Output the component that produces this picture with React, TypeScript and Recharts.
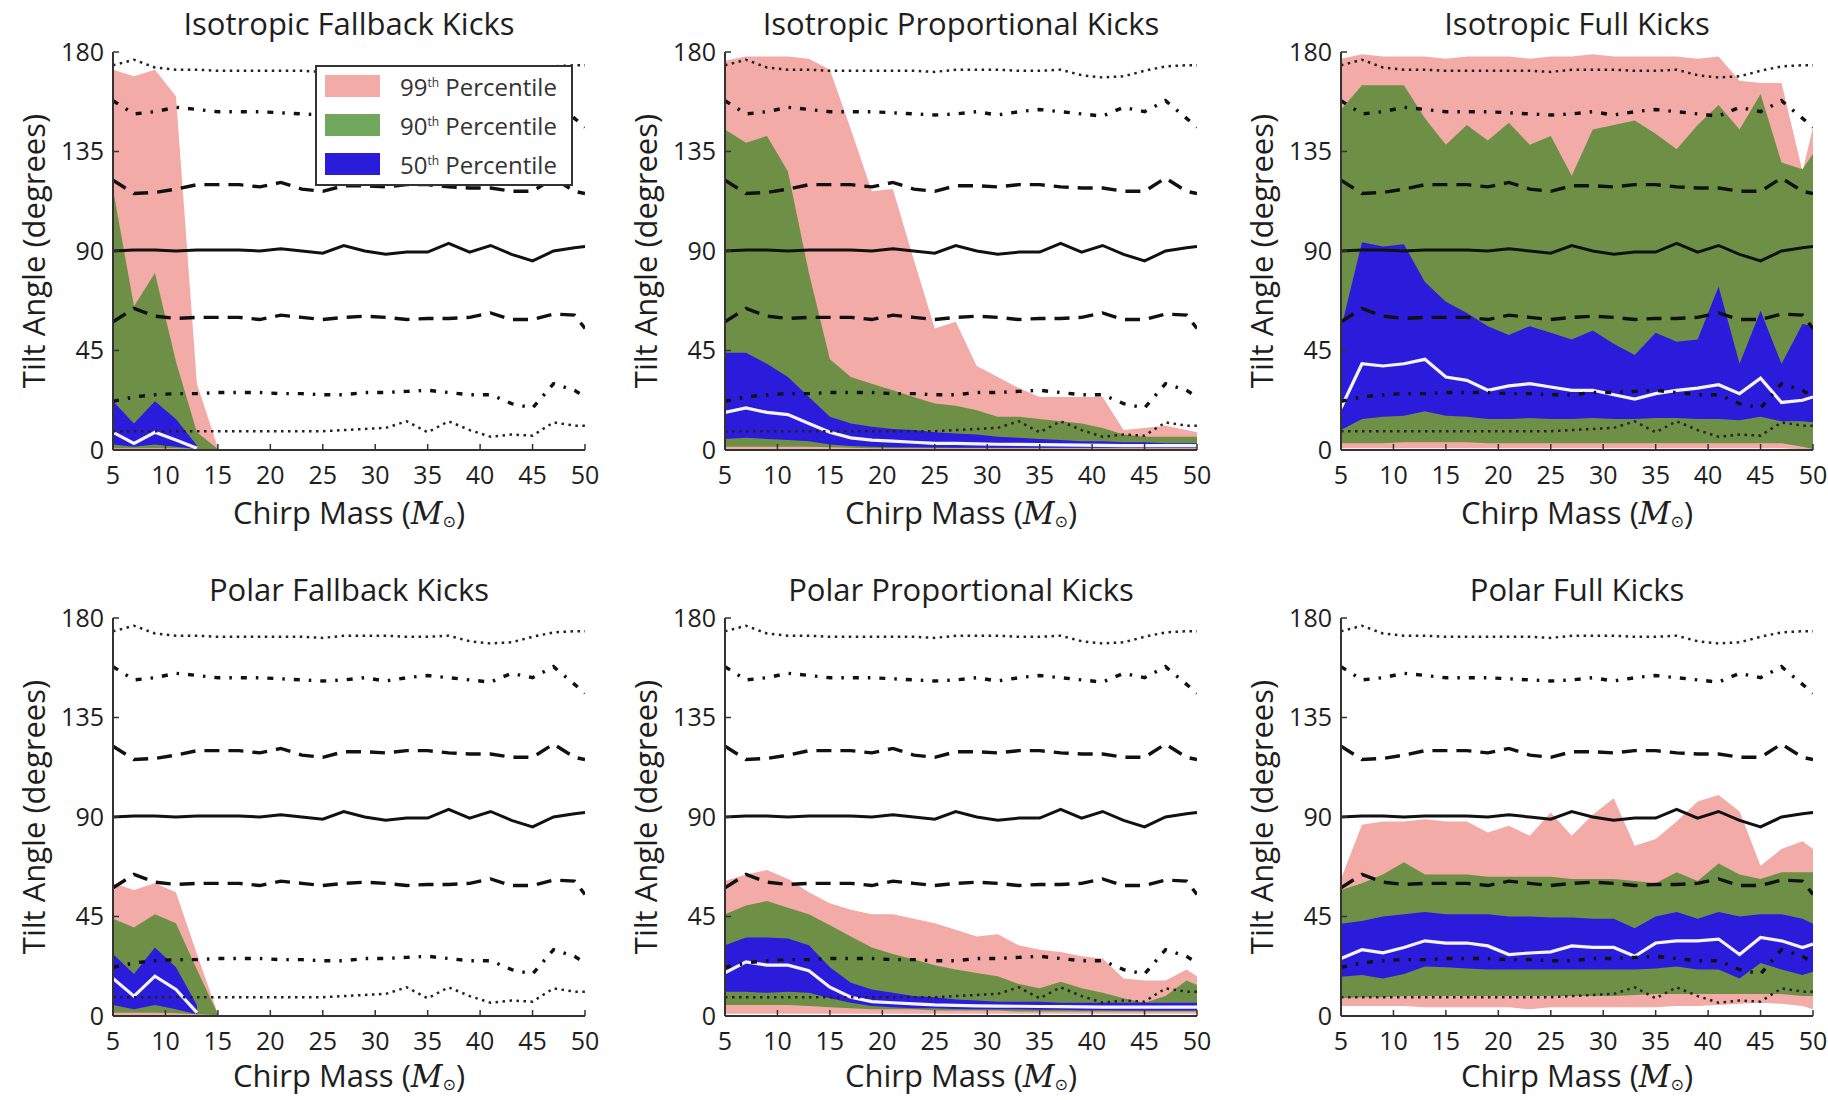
import React from "react";
import { ComposedChart, Area, Line, XAxis, YAxis } from "recharts";

const FONT = "'Open Sans', 'DejaVu Sans', sans-serif";
const N = null;

const chirpMass = [5, 7, 9, 11, 13, 15, 17, 19, 21, 23, 25, 27, 29, 31, 33, 35, 37, 39, 41, 43, 45, 47, 49, 50];
const xTicks = [5, 10, 15, 20, 25, 30, 35, 40, 45, 50];
const yTicks = [0, 45, 90, 135, 180];

// isotropic reference percentiles (black lines)
const isoMedian = [90, 90.5, 90.5, 90, 90.5, 90.5, 90.5, 90, 91, 90, 89, 92.5, 90, 88.5, 89.5, 89.5, 93.5, 89.5, 92.5, 88.5, 85.5, 90, 91.5, 92];
const iso25 = [58, 64, 60.5, 59.5, 60, 60, 60, 59, 61, 60, 59, 60, 60.5, 60, 59, 59.5, 59.5, 60, 62, 59, 59, 61.5, 61, 55];
const iso75 = [122, 116, 116.5, 118, 120, 120, 120, 119, 121, 118, 117, 119.5, 119.5, 119, 120, 120, 119, 118.5, 118.5, 117, 117, 123, 117, 116];
const iso5 = [22, 24, 25, 25.5, 25.5, 26, 26, 26, 25.5, 25.5, 25, 25, 26, 26, 26.5, 27, 26, 25, 25, 21, 19, 30, 27, 24];
const iso95 = [158, 152, 153, 155, 154, 153, 153, 153, 152.5, 152, 151.5, 152, 153, 151.5, 153, 154, 153, 152, 151, 155, 153, 158, 150, 146];
const isoLow = [8.5, 8.5, 8.5, 8.5, 8.5, 8.5, 8.5, 8.5, 8.5, 8.5, 8.5, 9, 9.5, 10, 13, 8, 13, 9, 6, 7, 6.5, 12.5, 11, 11];
const isoHigh = [174, 176.5, 173, 172, 172, 171.5, 171.5, 171.5, 171.5, 171.5, 171, 172, 172, 172, 171.5, 171.5, 172, 169.5, 168.5, 169, 171.5, 173.5, 174, 174];

// Isotropic Fallback Kicks
const isoFb99Lo = [0.3, 0.3, 0.3, 0.3, 0.3, 0.3, N, N, N, N, N, N, N, N, N, N, N, N, N, N, N, N, N, N];
const isoFb99Hi = [172, 169, 172, 160, 30, 1, N, N, N, N, N, N, N, N, N, N, N, N, N, N, N, N, N, N];
const isoFb90Lo = [0.8, 0.8, 0.8, 0.8, 0.5, 0.3, N, N, N, N, N, N, N, N, N, N, N, N, N, N, N, N, N, N];
const isoFb90Hi = [118, 65, 80, 40, 8, 0.5, N, N, N, N, N, N, N, N, N, N, N, N, N, N, N, N, N, N];
const isoFb50Lo = [2.5, 1.5, 2.5, 1.5, 0.5, N, N, N, N, N, N, N, N, N, N, N, N, N, N, N, N, N, N, N];
const isoFb50Hi = [22, 12, 22, 14, 2, N, N, N, N, N, N, N, N, N, N, N, N, N, N, N, N, N, N, N];
const isoFbMed = [8, 3, 8, 4.5, 0.8, N, N, N, N, N, N, N, N, N, N, N, N, N, N, N, N, N, N, N];

// Isotropic Proportional Kicks
const isoPr99Lo = [0.5, 0.5, 0.5, 0.5, 0.5, 0.5, 0.5, 0.5, 0.5, 0.5, 0.5, 0.5, 0.5, 0.5, 0.5, 0.5, 0.5, 0.5, 0.5, 0.5, 0.5, 0.5, 0.5, 0.5];
const isoPr99Hi = [176, 178, 178, 178, 177, 172, 145, 117, 118, 86, 55, 58, 38, 33, 28, 24, 24, 24, 24, 9, 10, 11, 9, 8];
const isoPr90Lo = [1.5, 1.5, 1.5, 1.5, 1.5, 1.2, 1, 0.8, 0.8, 0.8, 0.8, 0.8, 0.8, 0.8, 0.8, 0.8, 0.8, 0.8, 0.8, 0.8, 0.8, 0.8, 0.8, 0.8];
const isoPr90Hi = [145, 139, 142, 126, 80, 41, 33, 30, 27, 24, 21, 20, 18, 15, 15, 14, 13, 12, 10, 7, 6, 6, 6, 6];
const isoPr50Lo = [5, 5.5, 5, 4.5, 4, 2.5, 1.8, 1.5, 1.3, 1.2, 1.1, 1, 1, 1, 1, 1, 1, 1, 1, 1, 1, 1, 1, 1];
const isoPr50Hi = [44, 44, 39, 33, 24, 15, 12, 10.5, 9.5, 9, 8, 7.5, 7, 6, 5.5, 5, 4.5, 4, 4, 3.5, 3.5, 3, 3, 3];
const isoPrMed = [17, 19, 17, 16, 12, 8, 5.5, 4.5, 4, 3.5, 3, 3, 2.8, 2.6, 2.5, 2.4, 2.3, 2.2, 2.1, 2, 2, 2, 2, 2];

// Isotropic Full Kicks
const isoFu99Lo = [0.8, 0.8, 0.8, 0.8, 0.8, 0.8, 0.8, 0.8, 0.8, 0.8, 0.8, 0.8, 0.8, 0.8, 0.8, 0.8, 0.8, 0.8, 0.8, 0.8, 0.8, 0.8, 0.3, 0];
const isoFu99Hi = [177, 179, 178, 178, 178, 177, 178, 178, 178, 177, 178, 178, 179, 178, 178, 178, 178, 177, 178, 167, 166, 166, 126, 146];
const isoFu90Lo = [3, 3, 3, 3.5, 3.5, 3.5, 3.5, 3, 3, 3, 3, 3, 3, 3, 3, 3, 3, 3, 3, 3, 3, 3, 1.5, 0.5];
const isoFu90Hi = [154, 165, 165, 165, 150, 138, 147, 140, 148, 138, 142, 124, 145, 147, 149, 143, 136, 147, 156, 145, 161, 130, 127, 134];
const isoFu50Lo = [9, 14, 15, 15.5, 17.5, 15.5, 15, 14, 14, 14.5, 14, 14, 14.5, 14, 14, 14.5, 14.5, 14, 14, 13.5, 15, 13, 13, 12.5];
const isoFu50Hi = [55, 94, 92, 93, 76, 67, 62, 56, 52, 56, 53, 50, 54, 48, 43, 53, 49, 50, 74, 39, 63, 39, 57, 56];
const isoFuMed = [19, 39, 38, 39, 41, 33, 31.5, 27, 29, 30, 28.5, 27, 27, 25, 23, 25.5, 27, 28, 29.5, 25.5, 32.5, 21.5, 22.5, 24];

// Polar Fallback Kicks
const polFb99Lo = [0.3, 0.3, 0.3, 0.3, 0.3, 0.3, N, N, N, N, N, N, N, N, N, N, N, N, N, N, N, N, N, N];
const polFb99Hi = [60, 57, 60, 56, 28, 1, N, N, N, N, N, N, N, N, N, N, N, N, N, N, N, N, N, N];
const polFb90Lo = [1.5, 1.5, 1.5, 1.2, 0.8, 0.3, N, N, N, N, N, N, N, N, N, N, N, N, N, N, N, N, N, N];
const polFb90Hi = [44, 40, 46, 42, 21, 0.8, N, N, N, N, N, N, N, N, N, N, N, N, N, N, N, N, N, N];
const polFb50Lo = [5, 3, 5, 3, 0.8, N, N, N, N, N, N, N, N, N, N, N, N, N, N, N, N, N, N, N];
const polFb50Hi = [28, 19, 31, 22, 5, N, N, N, N, N, N, N, N, N, N, N, N, N, N, N, N, N, N, N];
const polFbMed = [17, 9, 18, 12, 1.5, N, N, N, N, N, N, N, N, N, N, N, N, N, N, N, N, N, N, N];

// Polar Proportional Kicks
const polPr99Lo = [1, 1, 1, 1, 1, 1, 1, 1, 1, 1, 1, 1, 1, 1, 1, 1, 1, 1, 1, 1, 1, 1, 1, 1];
const polPr99Hi = [61, 64, 66, 62, 56, 51, 48, 46, 46, 44, 42, 39, 36, 37, 32, 30, 29, 27, 26, 17, 16, 16, 21, 18];
const polPr90Lo = [5, 5, 5, 5, 4.5, 4, 3.5, 3, 3, 3, 2.5, 2.5, 2.5, 2.5, 2, 2, 2, 2, 2, 2, 2, 2, 2, 2];
const polPr90Hi = [46, 50, 52, 49, 46, 41, 36, 31, 28, 25.5, 23, 21, 19.5, 18, 14.5, 12.5, 15.5, 12.5, 10.5, 8, 6, 9, 16, 14];
const polPr50Lo = [11, 11, 10.5, 11, 10.5, 8, 6, 4.5, 4, 3.5, 3.5, 3.2, 3, 3, 3, 2.8, 2.8, 2.6, 2.6, 2.5, 2.5, 2.5, 2.5, 2.5];
const polPr50Hi = [32, 35.5, 35.5, 35, 32, 22, 15, 12, 10.5, 9, 8.5, 7.5, 7, 6.5, 6.5, 6.5, 6, 6, 6, 6, 6, 6, 6, 6];
const polPrMed = [19.5, 24.5, 23, 23, 20.5, 13, 8.5, 6.5, 6, 5.5, 5, 4.8, 4.6, 4.5, 4.4, 4.3, 4.2, 4.1, 4, 4, 4, 4, 4, 4];

// Polar Full Kicks
const polFu99Lo = [4.5, 4.5, 4.5, 4.5, 4, 4, 4, 4, 4, 3, 4, 4, 4, 4, 4, 4, 4.5, 4.5, 5, 5.5, 6, 5.5, 4.5, 3];
const polFu99Hi = [62, 86.5, 88, 88, 89, 88, 88, 83, 86, 81.5, 92, 81.5, 91, 98.5, 77, 80, 88, 97, 100, 92.5, 68, 75.5, 79, 75.5];
const polFu90Lo = [8, 8.5, 8.5, 9, 9, 9, 9, 9, 9, 9, 9, 9, 9, 9, 9.5, 10, 10, 10, 10, 10, 10, 10, 9, 9];
const polFu90Hi = [57, 60, 64, 69.5, 64, 64, 64, 63, 63, 63, 63, 62, 62, 62, 61, 60, 65, 61, 69, 64, 62, 65, 65, 65];
const polFu50Lo = [17.8, 18.5, 17, 19, 22.4, 22, 21.5, 21, 21, 21, 21, 21, 21, 21, 21, 21.5, 22.4, 21, 21, 17, 24, 21, 18.5, 20];
const polFu50Hi = [41.7, 43, 45, 46, 47, 46, 46, 46, 45, 45, 44.5, 44.5, 44, 44, 39.7, 45, 47, 44, 47, 45, 46, 46, 44, 41.7];
const polFuMed = [26, 30, 28.6, 31, 34, 33, 33, 31.7, 27.8, 28.5, 29, 31.7, 31, 31, 27, 33, 34, 34, 34.8, 27.8, 35.5, 34, 31, 32.5];

const panelTitles = [
  "Isotropic Fallback Kicks",
  "Isotropic Proportional Kicks",
  "Isotropic Full Kicks",
  "Polar Fallback Kicks",
  "Polar Proportional Kicks",
  "Polar Full Kicks",
];

const legendLabels = ["99", "90", "50"];

const PINK = "#F2ABA6";
const GREEN = "#6E9046";
const BLUE = "#2B1BDB";
const legendColors = [PINK, "#72A85E", BLUE];

const panelSeries = [
  [isoFb99Lo, isoFb99Hi, isoFb90Lo, isoFb90Hi, isoFb50Lo, isoFb50Hi, isoFbMed],
  [isoPr99Lo, isoPr99Hi, isoPr90Lo, isoPr90Hi, isoPr50Lo, isoPr50Hi, isoPrMed],
  [isoFu99Lo, isoFu99Hi, isoFu90Lo, isoFu90Hi, isoFu50Lo, isoFu50Hi, isoFuMed],
  [polFb99Lo, polFb99Hi, polFb90Lo, polFb90Hi, polFb50Lo, polFb50Hi, polFbMed],
  [polPr99Lo, polPr99Hi, polPr90Lo, polPr90Hi, polPr50Lo, polPr50Hi, polPrMed],
  [polFu99Lo, polFu99Hi, polFu90Lo, polFu90Hi, polFu50Lo, polFu50Hi, polFuMed],
];

const range = (lo: (number | null)[], hi: (number | null)[], i: number) =>
  lo[i] == null || hi[i] == null ? null : [lo[i], hi[i]];

function buildData(s: (number | null)[][]) {
  return chirpMass.map((x, i) => ({
    x,
    p99: range(s[0], s[1], i),
    p90: range(s[2], s[3], i),
    p50: range(s[4], s[5], i),
    med: s[6][i],
    isoMedian: isoMedian[i],
    iso25: iso25[i],
    iso75: iso75[i],
    iso5: iso5[i],
    iso95: iso95[i],
    isoLow: isoLow[i],
    isoHigh: isoHigh[i],
  }));
}

const colLeft = [113, 725, 1341];
const rowTop = [52, 618];
const PW = 472;
const PH = 398;
const ML = 100;
const MT = 50;
const MR = 22;
const MB = 60;

const TXT = "#1e1e1e";
const BIG = 31;
const tickStyle = { fill: TXT, fontSize: 25, fontFamily: FONT };

function Panel({ idx }: { idx: number }) {
  const col = idx % 3;
  const row = Math.floor(idx / 3);
  const left = colLeft[col];
  const top = rowTop[row];
  const data = buildData(panelSeries[idx]);
  const blk = "#111";
  return (
    <>
      <div
        style={{
          position: "absolute",
          left: left - 40,
          top: top - 48,
          width: PW + 80,
          textAlign: "center",
          fontFamily: FONT,
          fontSize: BIG,
          lineHeight: "38px",
          color: TXT,
          whiteSpace: "nowrap",
        }}
      >
        {panelTitles[idx]}
      </div>
      <div style={{ position: "absolute", left: left - ML, top: top - MT }}>
        <ComposedChart
          width={ML + PW + MR}
          height={MT + PH + MB}
          data={data}
          margin={{ top: MT, right: MR, left: 0, bottom: 0 }}
        >
          <XAxis
            dataKey="x"
            type="number"
            domain={[5, 50]}
            ticks={xTicks}
            allowDataOverflow
            height={MB}
            tick={tickStyle}
            tickSize={-6}
            tickMargin={22}
            axisLine={{ stroke: "#333", strokeWidth: 2 }}
            tickLine={{ stroke: "#333", strokeWidth: 1.5 }}
            interval={0}
          />
          <XAxis
            xAxisId="top"
            orientation="top"
            type="number"
            domain={[5, 50]}
            ticks={xTicks}
            allowDataOverflow
            height={0}
            tick={false}
            tickSize={-6}
            axisLine={{ stroke: "#333", strokeWidth: 2 }}
            tickLine={{ stroke: "#333", strokeWidth: 1.5 }}
          />
          <YAxis
            type="number"
            domain={[0, 180]}
            ticks={yTicks}
            allowDataOverflow
            width={ML}
            tick={tickStyle}
            tickSize={-6}
            tickMargin={15}
            axisLine={{ stroke: "#333", strokeWidth: 2 }}
            tickLine={{ stroke: "#333", strokeWidth: 1.5 }}
            interval={0}
          />
          <YAxis
            yAxisId="right"
            orientation="right"
            type="number"
            domain={[0, 180]}
            ticks={yTicks}
            allowDataOverflow
            width={0}
            tick={false}
            tickSize={-6}
            axisLine={{ stroke: "#333", strokeWidth: 2 }}
            tickLine={{ stroke: "#333", strokeWidth: 1.5 }}
          />
          <Area dataKey="p99" type="linear" stroke="none" fill={PINK} fillOpacity={1} isAnimationActive={false} dot={false} activeDot={false} />
          <Area dataKey="p90" type="linear" stroke="none" fill={GREEN} fillOpacity={1} isAnimationActive={false} dot={false} activeDot={false} />
          <Area dataKey="p50" type="linear" stroke="none" fill={BLUE} fillOpacity={1} isAnimationActive={false} dot={false} activeDot={false} />
          <Line dataKey="med" type="linear" stroke="#F4F4FF" strokeWidth={3.2} dot={false} activeDot={false} isAnimationActive={false} />
          <Line dataKey="isoHigh" type="linear" stroke="#222" strokeWidth={2.5} strokeDasharray="2.5 4.5" dot={false} activeDot={false} isAnimationActive={false} />
          <Line dataKey="isoLow" type="linear" stroke="#222" strokeWidth={2.5} strokeDasharray="2.5 4.5" dot={false} activeDot={false} isAnimationActive={false} />
          <Line dataKey="iso95" type="linear" stroke={blk} strokeWidth={3.4} strokeDasharray="6 9 2.5 9" dot={false} activeDot={false} isAnimationActive={false} />
          <Line dataKey="iso5" type="linear" stroke={blk} strokeWidth={3.4} strokeDasharray="6 9 2.5 9" dot={false} activeDot={false} isAnimationActive={false} />
          <Line dataKey="iso75" type="linear" stroke={blk} strokeWidth={3.4} strokeDasharray="15 9" dot={false} activeDot={false} isAnimationActive={false} />
          <Line dataKey="iso25" type="linear" stroke={blk} strokeWidth={3.4} strokeDasharray="15 9" dot={false} activeDot={false} isAnimationActive={false} />
          <Line dataKey="isoMedian" type="linear" stroke={blk} strokeWidth={3} dot={false} activeDot={false} isAnimationActive={false} />
        </ComposedChart>
      </div>
      <div
        style={{
          position: "absolute",
          left: left - 40,
          top: top + PH + (row === 0 ? 45 : 42),
          width: PW + 80,
          textAlign: "center",
          fontFamily: FONT,
          fontSize: BIG,
          lineHeight: "34px",
          color: TXT,
          whiteSpace: "nowrap",
        }}
      >
        Chirp Mass (<span style={{ fontFamily: "'DejaVu Serif', serif", fontStyle: "italic" }}>M</span>
        <span style={{ fontSize: 16, verticalAlign: "-3px" }}>⊙</span>)
      </div>
      <div
        style={{
          position: "absolute",
          left: left - 80 - 200,
          top: top + PH / 2 - 19,
          width: 400,
          textAlign: "center",
          fontFamily: FONT,
          fontSize: BIG,
          lineHeight: "38px",
          color: TXT,
          whiteSpace: "nowrap",
          transform: "rotate(-90deg)",
        }}
      >
        Tilt Angle (degrees)
      </div>
    </>
  );
}

function LegendBox() {
  return (
    <div
      style={{
        position: "absolute",
        left: 315,
        top: 65,
        width: 258,
        height: 121,
        border: "2px solid #333",
        background: "#fff",
        boxSizing: "border-box",
        fontFamily: FONT,
        color: "#333",
      }}
    >
      {legendLabels.map((p, i) => (
        <div
          key={p}
          style={{ position: "absolute", left: 8, top: 4 + i * 39, height: 30, display: "flex", alignItems: "center" }}
        >
          <div style={{ width: 55, height: 22, background: legendColors[i] }} />
          <span style={{ marginLeft: 20, fontSize: 24, whiteSpace: "nowrap" }}>
            {p}
            <sup style={{ fontSize: 12 }}>th</sup> Percentile
          </span>
        </div>
      ))}
    </div>
  );
}

export default function App() {
  return (
    <div style={{ position: "absolute", left: 0, top: 0, width: 1828, height: 1100, background: "#fff", overflow: "hidden" }}>
      {[0, 1, 2, 3, 4, 5].map((i) => (
        <Panel key={i} idx={i} />
      ))}
      <LegendBox />
    </div>
  );
}
